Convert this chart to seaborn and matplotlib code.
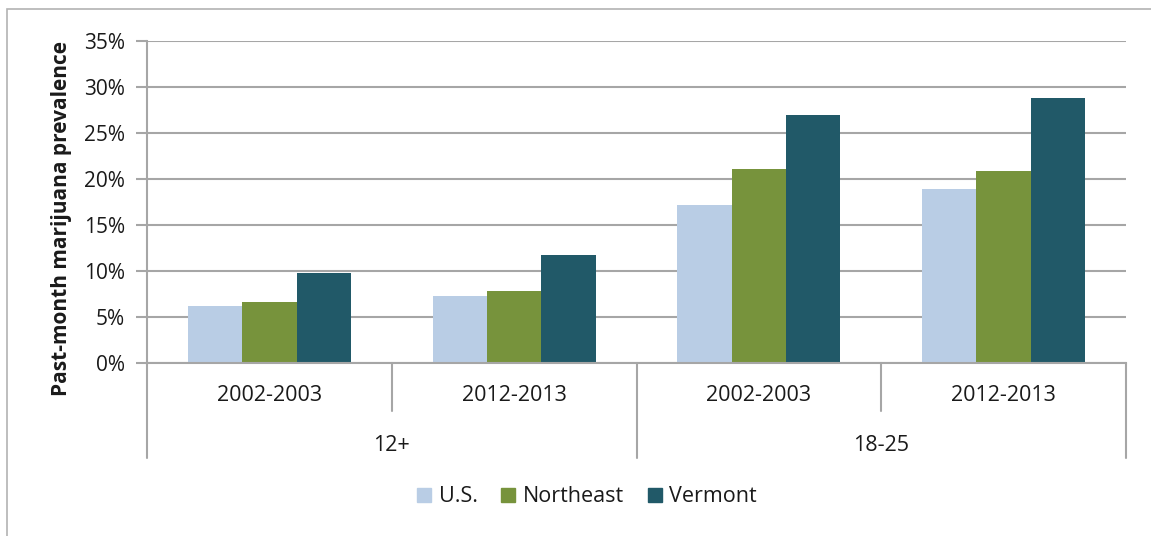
import matplotlib
matplotlib.use("Agg")
import matplotlib.pyplot as plt
import matplotlib.patches as mpatches
import seaborn as sns
import pandas as pd

# values (fractions)
age_groups = ["12+", "12+", "18-25", "18-25"]
periods = ["2002-2003", "2012-2013", "2002-2003", "2012-2013"]
regions = ["U.S.", "Northeast", "Vermont"]
us = [0.0616, 0.0728, 0.172, 0.189]
northeast = [0.0666, 0.0783, 0.2105, 0.209]
vermont = [0.0974, 0.117, 0.270, 0.2877]
colors = ["#b9cde5", "#77933c", "#215968"]

rows = []
for i, (g, p) in enumerate(zip(age_groups, periods)):
    for r, vals in zip(regions, [us, northeast, vermont]):
        rows.append({"cat": f"{g} {p}", "region": r, "value": vals[i]})
df = pd.DataFrame(rows)
order = [f"{g} {p}" for g, p in zip(age_groups, periods)]

sns.set_theme(style="white")
plt.rcParams["font.family"] = ["Open Sans", "DejaVu Sans"]

W, H = 1151, 536
fig = plt.figure(figsize=(W / 100, H / 100), dpi=100)
ax = fig.add_axes([147 / W, 1 - 363 / H, (1126 - 147) / W, (363 - 41) / H])

sns.barplot(data=df, x="cat", y="value", hue="region", order=order,
            hue_order=regions, palette=colors, width=0.667, gap=0,
            linewidth=0, saturation=1, ax=ax, legend=False)

grid = "#a6a6a6"
ax.set_ylim(0, 0.35)
ax.set_xlim(-0.5, 3.5)
ax.set_yticks([i * 0.05 for i in range(8)])
ax.set_yticklabels([f"{i * 5}%" for i in range(8)], fontsize=15, color="#1a1a1a")
ax.yaxis.grid(True, color=grid, linewidth=1.5)
ax.set_axisbelow(True)
ax.tick_params(axis="y", which="both", left=True, length=8, width=1.5,
               color=grid, pad=8)
ax.tick_params(axis="x", length=0, pad=16)
ax.set_xticks(range(4))
ax.set_xticklabels(periods, fontsize=15.5, color="#1a1a1a")
for s in ["top", "right"]:
    ax.spines[s].set_visible(False)
for s in ["left", "bottom"]:
    ax.spines[s].set_color(grid)
    ax.spines[s].set_linewidth(1.5)
ax.set_xlabel("")
ax.set_ylabel("")

# category separators of the two-level axis
tr = ax.get_xaxis_transform()
for x in [0.5, 2.5]:
    ax.plot([x, x], [0, -0.149], transform=tr, color=grid, lw=1.5, clip_on=False)
for x in [-0.5, 1.5, 3.5]:
    ax.plot([x, x], [0, -0.295], transform=tr, color=grid, lw=1.5, clip_on=False)
for x, g in [(0.5, "12+"), (2.5, "18-25")]:
    ax.text(x, -0.255, g, transform=tr, ha="center", va="center",
            fontsize=15.5, color="#1a1a1a")

fig.text(62 / W, 1 - 218 / H, "Past-month marijuana prevalence", rotation=90,
         ha="center", va="center", fontsize=15, fontweight="bold", color="#1a1a1a")

handles = [mpatches.Patch(color=c, label=r) for c, r in zip(colors, regions)]
fig.legend(handles=handles, loc="center", bbox_to_anchor=(587 / W, 1 - 497 / H),
           ncol=3, frameon=False, fontsize=15.5, handlelength=0.65, handleheight=0.65,
           handletextpad=0.35, columnspacing=1.1, labelcolor="#1a1a1a")

# outer chart border (cut off at the right and bottom)
fig.patches.append(mpatches.Rectangle((7 / W, -0.5), 2, 1.5 - 9 / H,
                                      transform=fig.transFigure, fill=False,
                                      edgecolor="#b3b3b3", linewidth=1.2))

fig.savefig("out.png", dpi=100)
